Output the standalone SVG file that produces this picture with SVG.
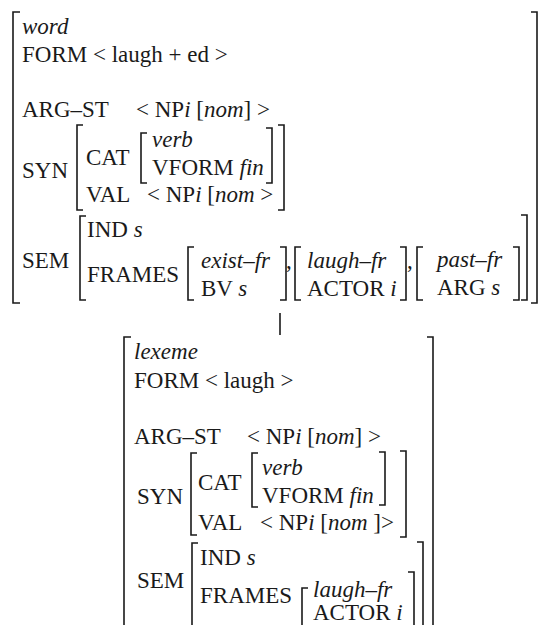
<svg xmlns="http://www.w3.org/2000/svg" width="539" height="625" viewBox="0 0 539 625">
<style>
text{font-family:"Liberation Serif","Times New Roman",Tinos,"DejaVu Serif","Noto Serif",serif;font-size:23px;fill:#1a1a1a}
.it{font-style:italic}
.br{fill:none;stroke:#1a1a1a;stroke-width:1.6}
</style>
<rect width="539" height="625" fill="#fff"/>
<g id="word-avm" font-family="Liberation Serif, Times New Roman, DejaVu Serif, serif">
<path class="br" d="M20 12H13V303H20"/>
<path class="br" d="M531 12H537V303H531"/>
<text x="22" y="34" class="it">word</text>
<text x="22" y="62">FORM &lt; laugh + ed &gt;</text>
<text x="22" y="117">ARG–ST</text>
<text x="136" y="117">&lt; NP<tspan class="it">i</tspan> [<tspan class="it">nom</tspan>] &gt;</text>
<text x="22" y="178">SYN</text>
<path class="br" d="M83 125H77V210H83"/>
<path class="br" d="M278 125H284V210H278"/>
<text x="86" y="165">CAT</text>
<path class="br" d="M147 133H141V183H147"/>
<path class="br" d="M266 128H272V183H266"/>
<text x="152" y="147" class="it">verb</text>
<text x="152" y="175">VFORM <tspan class="it">fin</tspan></text>
<text x="86" y="202">VAL</text>
<text x="147" y="202">&lt; NP<tspan class="it">i</tspan> [<tspan class="it">nom</tspan> &gt;</text>
<text x="22" y="268">SEM</text>
<path class="br" d="M86 216H80V300H86"/>
<path class="br" d="M521 215H527V300H521"/>
<text x="87" y="237">IND <tspan class="it">s</tspan></text>
<text x="87" y="282">FRAMES</text>
<path class="br" d="M194 247H188V300H194"/>
<text x="201" y="268" class="it">exist–fr</text>
<text x="201" y="296">BV <tspan class="it">s</tspan></text>
<path class="br" d="M280 247H286V300H280"/>
<text x="286" y="268">,</text>
<path class="br" d="M301 247H295V300H301"/>
<text x="307" y="268" class="it">laugh–fr</text>
<text x="307" y="296">ACTOR <tspan class="it">i</tspan></text>
<path class="br" d="M400 247H406V300H400"/>
<text x="407" y="268">,</text>
<path class="br" d="M423 247H417V300H423"/>
<text x="437" y="267" class="it">past–fr</text>
<text x="437" y="295">ARG <tspan class="it">s</tspan></text>
<path class="br" d="M513 247H519V300H513"/>
</g>
<g id="connectors">
<line x1="280" y1="313" x2="280" y2="335" class="br"/>
</g>
<g id="lexeme-avm" font-family="Liberation Serif, Times New Roman, DejaVu Serif, serif">
<path class="br" d="M131 337H124V630"/>
<path class="br" d="M427 337H433V630"/>
<text x="134" y="359" class="it">lexeme</text>
<text x="134" y="388">FORM &lt; laugh &gt;</text>
<text x="134" y="444">ARG–ST</text>
<text x="247" y="444">&lt; NP<tspan class="it">i</tspan> [<tspan class="it">nom</tspan>] &gt;</text>
<text x="137" y="504">SYN</text>
<path class="br" d="M197 453H191V535H197"/>
<path class="br" d="M400 451H406V537H400"/>
<text x="198" y="490">CAT</text>
<path class="br" d="M258 453H252V507H258"/>
<path class="br" d="M379 452H385V505H379"/>
<text x="262" y="475" class="it">verb</text>
<text x="262" y="503">VFORM <tspan class="it">fin</tspan></text>
<text x="198" y="530">VAL</text>
<text x="260" y="530">&lt; NP<tspan class="it">i</tspan> [<tspan class="it">nom</tspan> ]&gt;</text>
<text x="137" y="588">SEM</text>
<path class="br" d="M198 543H192V630"/>
<path class="br" d="M417 542H423V630"/>
<text x="200" y="565">IND <tspan class="it">s</tspan></text>
<text x="200" y="603">FRAMES</text>
<path class="br" d="M308 588H302V630"/>
<text x="313" y="597" class="it">laugh–fr</text>
<text x="313" y="620">ACTOR <tspan class="it">i</tspan></text>
<path class="br" d="M408 572H414V630"/>
</g>
</svg>
